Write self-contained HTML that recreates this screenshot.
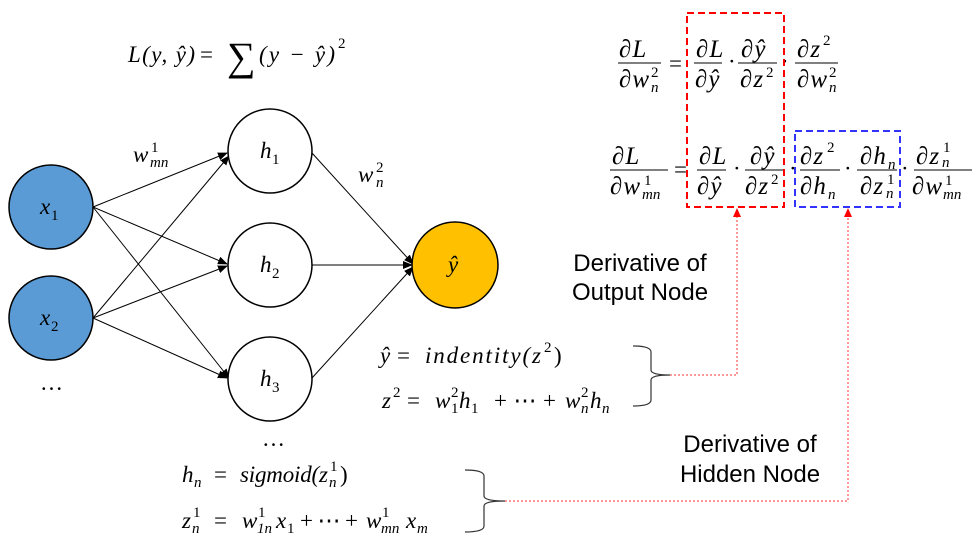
<!DOCTYPE html>
<html><head><meta charset="utf-8"><style>
body{margin:0;background:#fff;}
svg{display:block}
.m{font-family:"Liberation Serif",serif;font-style:italic;font-size:23px;fill:#000}
.f{font-family:"Liberation Serif",serif;font-style:italic;font-size:25px;fill:#000;letter-spacing:1px}
.r{font-family:"Liberation Serif",serif;font-size:23px;fill:#000}
.s{font-size:15px}
.t{font-family:"Liberation Sans",sans-serif;font-size:24px;fill:#000}
</style></head><body>
<svg width="980" height="548" viewBox="0 0 980 548" xmlns="http://www.w3.org/2000/svg">
<defs>
<marker id="a" markerWidth="10" markerHeight="10" refX="9" refY="5" orient="auto" markerUnits="userSpaceOnUse"><path d="M0,1 L10,5 L0,9 z" fill="#000"/></marker>
</defs>
<!-- loss -->
<text x="128" y="62" class="m" textLength="67" lengthAdjust="spacing">L(y, ŷ)</text>
<text x="200" y="62" class="r">=</text>
<text x="227" y="70" class="r" style="font-size:40px">∑</text>
<text x="259" y="62" class="m" textLength="76" lengthAdjust="spacing">(y − ŷ)</text>
<text x="338" y="48" class="r s">2</text>
<!-- connections -->
<g stroke="#000" stroke-width="1" fill="none">
<line x1="93" y1="207" x2="227" y2="153" marker-end="url(#a)"/>
<line x1="93" y1="207" x2="227" y2="264" marker-end="url(#a)"/>
<line x1="93" y1="207" x2="229" y2="378" marker-end="url(#a)"/>
<line x1="93" y1="318" x2="229" y2="156" marker-end="url(#a)"/>
<line x1="93" y1="318" x2="227" y2="266" marker-end="url(#a)"/>
<line x1="93" y1="318" x2="227" y2="378" marker-end="url(#a)"/>
<line x1="312" y1="153" x2="413" y2="264" marker-end="url(#a)"/>
<line x1="312" y1="265" x2="412" y2="265" marker-end="url(#a)"/>
<line x1="312" y1="378" x2="413" y2="267" marker-end="url(#a)"/>
</g>
<!-- nodes -->
<circle cx="51" cy="207" r="42" fill="#5B9BD5" stroke="#000" stroke-width="1.5"/>
<circle cx="51" cy="318" r="42" fill="#5B9BD5" stroke="#000" stroke-width="1.5"/>
<circle cx="270" cy="151" r="42" fill="#fff" stroke="#000" stroke-width="1.5"/>
<circle cx="270" cy="265" r="42" fill="#fff" stroke="#000" stroke-width="1.5"/>
<circle cx="270" cy="379" r="42" fill="#fff" stroke="#000" stroke-width="1.5"/>
<circle cx="455" cy="265" r="43" fill="#FFC000" stroke="#000" stroke-width="1.5"/>
<text x="40" y="214" class="m">x</text><text x="51" y="220" class="r s">1</text>
<text x="40" y="325" class="m">x</text><text x="51" y="331" class="r s">2</text>
<text x="260" y="158" class="m">h</text><text x="272" y="164" class="r s">1</text>
<text x="260" y="272" class="m">h</text><text x="272" y="278" class="r s">2</text>
<text x="260" y="386" class="m">h</text><text x="272" y="392" class="r s">3</text>
<text x="448" y="272" class="m">ŷ</text>
<text x="40" y="390" class="r">…</text>
<text x="262" y="446" class="r">…</text>
<text x="133" y="162" class="m">w</text><text x="151" y="152" class="r s">1</text><text x="150" y="167" class="m s">mn</text>
<text x="358" y="182" class="m">w</text><text x="376" y="172" class="r s">2</text><text x="376" y="187" class="m s">n</text>
<!-- row 1 -->
<text x="619" y="57" class="f">∂L</text>
<line x1="618" y1="63" x2="661" y2="63" stroke="#000"/>
<text x="619" y="87" class="f">∂w</text>
<text x="651" y="77" class="r s">2</text><text x="651" y="92" class="m s">n</text>
<text x="669" y="71" class="r">=</text>
<text x="696" y="57" class="f">∂L</text>
<line x1="694" y1="63" x2="722" y2="63" stroke="#000"/>
<text x="695" y="87" class="f">∂ŷ</text>
<text x="728" y="69" class="r">·</text>
<text x="741" y="57" class="f">∂ŷ</text>
<line x1="738" y1="63" x2="777" y2="63" stroke="#000"/>
<text x="740" y="87" class="f">∂z</text>
<text x="766" y="77" class="r s">2</text>
<text x="781" y="69" class="r">·</text>
<text x="797" y="57" class="f">∂z</text>
<text x="823" y="45" class="r s">2</text>
<line x1="795" y1="63" x2="838" y2="63" stroke="#000"/>
<text x="797" y="87" class="f">∂w</text>
<text x="829" y="77" class="r s">2</text><text x="829" y="92" class="m s">n</text>
<!-- row 2 -->
<text x="612" y="164" class="f">∂L</text>
<line x1="610" y1="170" x2="668" y2="170" stroke="#000"/>
<text x="610" y="194" class="f">∂w</text>
<text x="644" y="185" class="r s">1</text><text x="642" y="199" class="m s">mn</text>
<text x="674" y="177" class="r">=</text>
<text x="699" y="164" class="f">∂L</text>
<line x1="697" y1="170" x2="726" y2="170" stroke="#000"/>
<text x="697" y="194" class="f">∂ŷ</text>
<text x="733" y="176" class="r">·</text>
<text x="750" y="164" class="f">∂ŷ</text>
<line x1="745" y1="170" x2="783" y2="170" stroke="#000"/>
<text x="745" y="194" class="f">∂z</text>
<text x="771" y="184" class="r s">2</text>
<text x="789" y="176" class="r">·</text>
<text x="800" y="164" class="f">∂z</text>
<text x="827" y="152" class="r s">2</text>
<line x1="800" y1="170" x2="840" y2="170" stroke="#000"/>
<text x="800" y="194" class="f">∂h</text>
<text x="828" y="199" class="m s">n</text>
<text x="844" y="176" class="r">·</text>
<text x="860" y="164" class="f">∂h</text>
<text x="888" y="169" class="m s">n</text>
<line x1="857" y1="170" x2="897" y2="170" stroke="#000"/>
<text x="860" y="194" class="f">∂z</text>
<text x="887" y="184" class="r s">1</text><text x="886" y="198" class="m s">n</text>
<text x="901" y="176" class="r">·</text>
<text x="916" y="164" class="f">∂z</text>
<text x="943" y="152" class="r s">1</text><text x="942" y="167" class="m s">n</text>
<line x1="914" y1="170" x2="972" y2="170" stroke="#000"/>
<text x="912" y="194" class="f">∂w</text>
<text x="945" y="185" class="r s">1</text><text x="943" y="199" class="m s">mn</text>
<rect x="687" y="13" width="97" height="194" fill="none" stroke="#f00" stroke-width="2" stroke-dasharray="7,4"/>
<rect x="795" y="131" width="105" height="76" fill="none" stroke="#33f" stroke-width="2" stroke-dasharray="7,4"/>
<!-- red dotted connectors -->
<g stroke="#f33" stroke-width="1" stroke-dasharray="2,2" fill="none">
<polyline points="670,375 737,375 737,216"/>
<polyline points="505,501 848,501 848,216"/>
</g>
<path d="M733,217 L737,208 L741,217 z" fill="#f00"/>
<path d="M844,217 L848,208 L852,217 z" fill="#f00"/>
<text x="640" y="271" class="t" text-anchor="middle">Derivative of</text>
<text x="640" y="300" class="t" text-anchor="middle">Output Node</text>
<text x="750" y="452" class="t" text-anchor="middle">Derivative of</text>
<text x="750" y="482" class="t" text-anchor="middle">Hidden Node</text>
<!-- ŷ = indentity(z²) -->
<text x="380" y="363" class="m">ŷ</text>
<text x="397" y="363" class="r">=</text>
<text x="425" y="363" class="m" textLength="116" lengthAdjust="spacing">indentity(z</text>
<text x="544" y="352" class="r s">2</text>
<text x="554" y="363" class="r">)</text>
<!-- z² line -->
<text x="382" y="408" class="m">z</text><text x="393" y="397" class="r s">2</text>
<text x="407" y="408" class="r">=</text>
<text x="435" y="408" class="m">w</text><text x="451" y="397" class="r s">2</text><text x="451" y="413" class="r s">1</text>
<text x="459" y="408" class="m">h</text><text x="471" y="413" class="r s">1</text>
<text x="494" y="408" class="r" textLength="62" lengthAdjust="spacing">+ ⋯ +</text>
<text x="565" y="408" class="m">w</text><text x="581" y="397" class="r s">2</text><text x="581" y="413" class="m s">n</text>
<text x="590" y="408" class="m">h</text><text x="602" y="413" class="m s">n</text>
<!-- hn line -->
<text x="182" y="482" class="m">h</text><text x="194" y="487" class="m s">n</text>
<text x="214" y="482" class="r">=</text>
<text x="240" y="482" class="m" textLength="88" lengthAdjust="spacing">sigmoid(z</text>
<text x="330" y="471" class="r s">1</text><text x="329" y="487" class="m s">n</text>
<text x="340" y="482" class="r">)</text>
<!-- zn line -->
<text x="182" y="528" class="m">z</text><text x="193" y="517" class="r s">1</text><text x="192" y="533" class="m s">n</text>
<text x="214" y="528" class="r">=</text>
<text x="242" y="528" class="m">w</text><text x="258" y="517" class="r s">1</text><text x="257" y="533" class="m s">1n</text>
<text x="276" y="528" class="m">x</text><text x="287" y="533" class="r s">1</text>
<text x="300" y="528" class="r" textLength="58" lengthAdjust="spacing">+ ⋯ +</text>
<text x="366" y="528" class="m">w</text><text x="382" y="517" class="r s">1</text><text x="381" y="533" class="m s">mn</text>
<text x="406" y="528" class="m">x</text><text x="417" y="533" class="m s">m</text>
<g stroke="#333" stroke-width="1.2" fill="none">
<path d="M633,346 Q651,346 651,352 L651,370 Q651,375 670,375 Q651,375 651,380 L651,400 Q651,406 633,406"/>
<path d="M465,470 Q484,470 484,476 L484,496 Q484,501 505,501 Q484,501 484,506 L484,526 Q484,532 465,532"/>
</g>
</svg>
</body></html>
